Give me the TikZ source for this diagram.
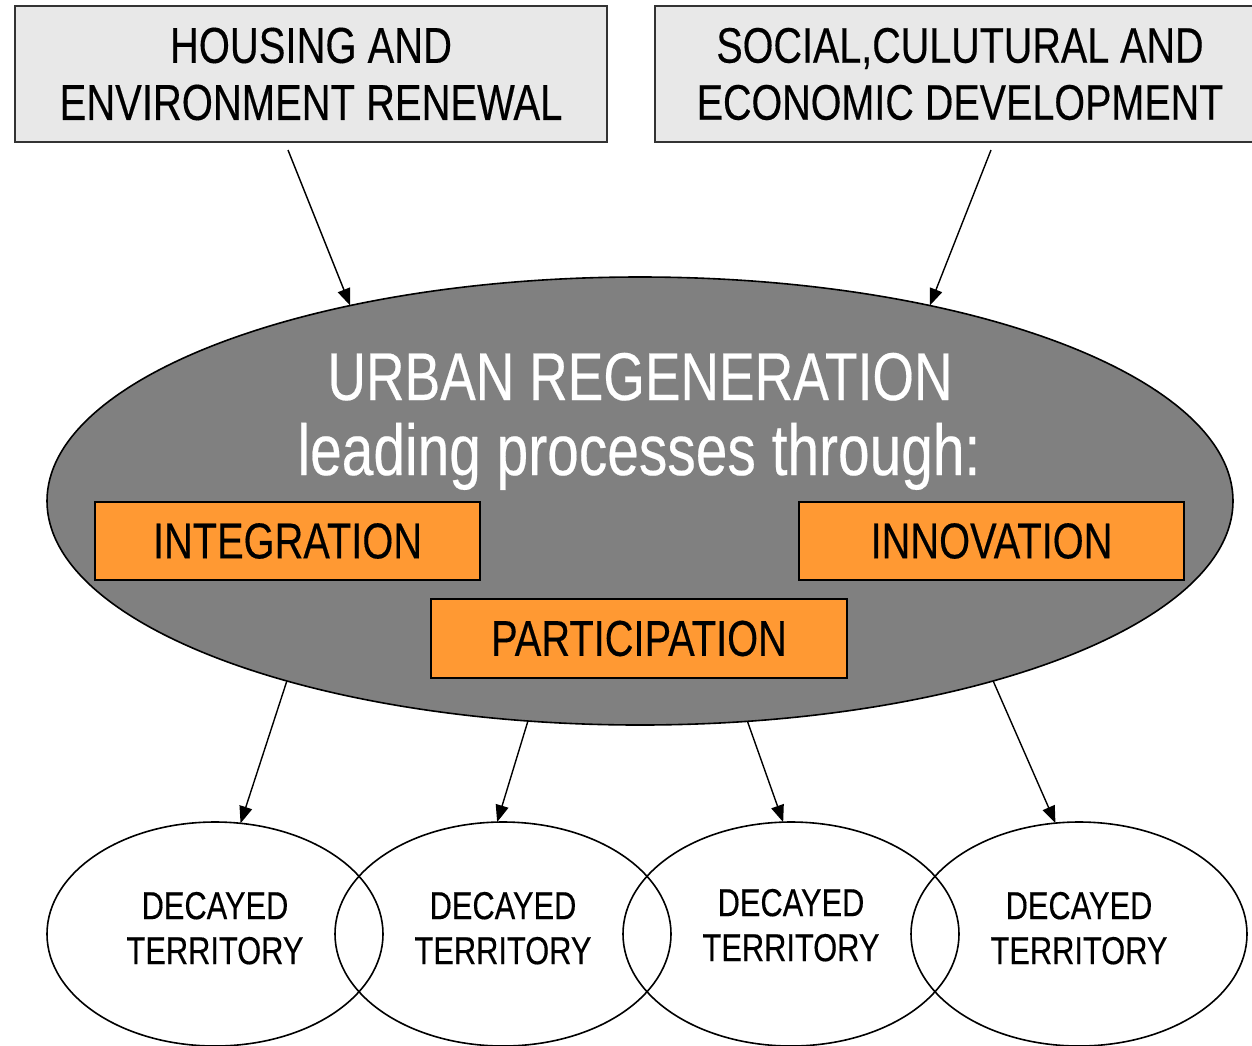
\documentclass[tikz,border=0pt]{standalone}
\usepackage{fontspec}
\setmainfont{Liberation Sans}[FakeStretch=0.79,FakeBold=0.3]
\usetikzlibrary{shapes.geometric,arrows.meta}
\definecolor{boxgray}{HTML}{E8E8E8}
\definecolor{urbgray}{HTML}{808080}
\definecolor{procorange}{HTML}{FF9933}

\tikzset{
  topbox/.style={draw=black!80, line width=0.9pt, fill=boxgray, minimum height=68pt,
    inner sep=0pt, outer sep=0pt, align=center, font=\fontsize{25.3}{28.5}\selectfont},
  procbox/.style={draw=black, line width=0.9pt, fill=procorange, minimum width=192.5pt,
    minimum height=39pt, inner sep=0pt, outer sep=0pt, font=\fontsize{25.2}{30}\selectfont},
  terrnode/.style={ellipse, draw, line width=0.8pt, minimum width=168pt, minimum height=112pt,
    inner sep=0pt, outer sep=0pt, align=center, font=\fontsize{19.5}{22.5}\selectfont},
  urbtext/.style={white, anchor=base, inner sep=0pt},
  arr/.style={line width=0.7pt, -{Triangle[length=8.5pt,width=6.5pt]}}
}

\begin{document}
\begin{tikzpicture}[x=0.5pt,y=-0.5pt]
  \useasboundingbox (0,0) rectangle (1252,1045);
  \node[topbox, minimum width=296pt] (housing) at (311,74) {HOUSING AND\\ENVIRONMENT RENEWAL};
  \node[topbox, minimum width=305pt, font=\fontsize{25}{28.5}\selectfont] (social) at (960,74) {SOCIAL,CULUTURAL AND\\ECONOMIC DEVELOPMENT};
  % main ellipse
  \node[ellipse, draw, line width=0.8pt, fill=urbgray, minimum width=593pt, minimum height=224pt,
    inner sep=0pt, outer sep=0pt] (urban) at (640,501) {};
  \node[urbtext, font=\fontsize{33.8}{40}\selectfont] (urbtitle) at (640,400) {URBAN REGENERATION};
  \node[urbtext, font=\fontsize{36}{40}\selectfont] (urbsub) at (639,475) {leading processes through:};
  \node[procbox] (integ) at (287.5,541) {INTEGRATION};
  \node[procbox] (innov) at (991.5,541) {INNOVATION};
  \node[procbox, minimum width=208pt, minimum height=39.5pt] (partic) at (639,638.5) {PARTICIPATION};
  % territories
  \foreach \i/\x/\d in {1/215/6, 2/503/6, 3/791/9, 4/1079/6}
    \node[terrnode, text depth=\d pt] (terr\i) at (\x,934) {DECAYED\\TERRITORY};
  \draw[arr] ([shift={(31,8)}]social.south) -- (urban.34);
  \draw[arr] ([shift={(-23,8)}]housing.south) -- (urban.146);
  \foreach \a/\i/\b in {207/1/77, 243/2/93, 296/3/94, 333/4/102}
    \draw[arr] (urban.\a) -- (terr\i.\b);
\end{tikzpicture}
\end{document}
